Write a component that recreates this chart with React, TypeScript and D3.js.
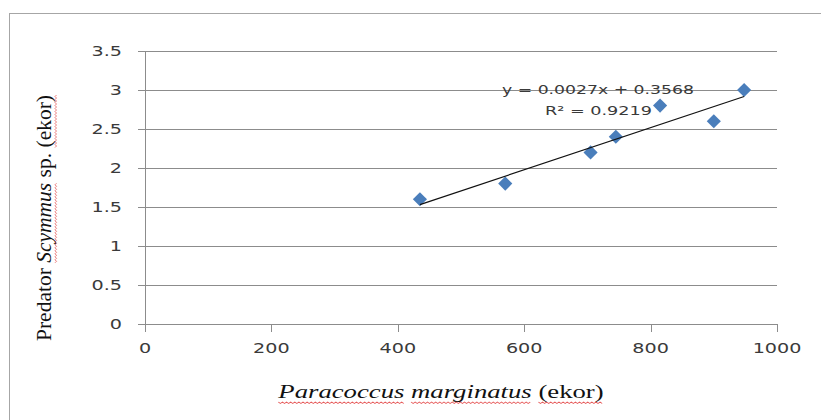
import React, { useEffect, useRef } from "react";
import * as d3 from "d3";

const preyCounts = [435, 570, 705, 745, 815, 900, 948];
const predatorCounts = [1.6, 1.8, 2.2, 2.4, 2.8, 2.6, 3.0];
const xTicks = [0, 200, 400, 600, 800, 1000];
const yTicks = [0, 0.5, 1, 1.5, 2, 2.5, 3, 3.5];
const trendSlope = 0.0027;
const trendIntercept = 0.3568;
const equationLines = ["y = 0.0027x + 0.3568", "R² = 0.9219"];
const xTitleParts = [
  { text: "Paracoccus", italic: true, wavy: true },
  { text: " ", italic: false, wavy: false },
  { text: "marginatus", italic: true, wavy: true },
  { text: " ", italic: false, wavy: false },
  { text: "(ekor)", italic: false, wavy: true },
];
const yTitleParts = [
  { text: "Predator ", italic: false, wavy: false },
  { text: "Scymmus", italic: true, wavy: true },
  { text: " sp. ", italic: false, wavy: false },
  { text: "(ekor)", italic: false, wavy: true },
];

const W = 821;
const H = 420;

export default function App() {
  const ref = useRef<SVGSVGElement | null>(null);

  useEffect(() => {
    const svg = d3.select(ref.current);
    svg.selectAll("*").remove();

    const x = d3.scaleLinear().domain([0, 1000]).range([145, 777]);
    const y = d3.scaleLinear().domain([0, 3.5]).range([324, 51]);

    // frame
    svg.append("rect").attr("x", 9.5).attr("y", 13.5).attr("width", 830).attr("height", 430)
      .attr("fill", "white").attr("stroke", "#a6a6a6").attr("stroke-width", 1);

    const tickFont = "'DejaVu Sans', Verdana, sans-serif";
    const tickColor = "#3a3a3a";
    const stretch = 1.42;
    // gridlines
    svg.append("g").selectAll("line").data(yTicks.filter((t) => t > 0)).join("line")
      .attr("x1", x(0)).attr("x2", x(1000))
      .attr("y1", (d) => Math.round(y(d)) + 0.5).attr("y2", (d) => Math.round(y(d)) + 0.5)
      .attr("stroke", "#8c8c8c").attr("stroke-width", 1);

    // axes
    const axisColor = "#8c8c8c";
    svg.append("line").attr("x1", x(0) + 0.5).attr("x2", x(0) + 0.5).attr("y1", y(3.5)).attr("y2", y(0))
      .attr("stroke", axisColor);
    svg.append("line").attr("x1", x(0)).attr("x2", x(1000)).attr("y1", y(0) + 0.5).attr("y2", y(0) + 0.5)
      .attr("stroke", axisColor);
    // y ticks
    svg.append("g").selectAll("line").data(yTicks).join("line")
      .attr("x1", x(0) - 7).attr("x2", x(0))
      .attr("y1", (d) => Math.round(y(d)) + 0.5).attr("y2", (d) => Math.round(y(d)) + 0.5)
      .attr("stroke", axisColor);
    svg.append("g").selectAll("text").data(yTicks).join("text")
      .attr("transform", (d) => `translate(${x(0) - 23},${y(d)}) scale(${stretch},1)`)
      .attr("dy", "0.36em")
      .attr("text-anchor", "end").attr("font-family", tickFont).attr("font-size", 13.5)
      .attr("fill", tickColor).text((d) => String(d));
    // x ticks
    svg.append("g").selectAll("line").data(xTicks).join("line")
      .attr("x1", (d) => Math.round(x(d)) + 0.5).attr("x2", (d) => Math.round(x(d)) + 0.5)
      .attr("y1", y(0)).attr("y2", y(0) + 8)
      .attr("stroke", axisColor);
    svg.append("g").selectAll("text").data(xTicks).join("text")
      .attr("transform", (d) => `translate(${x(d)},${y(0) + 29}) scale(${stretch},1)`)
      .attr("text-anchor", "middle").attr("font-family", tickFont).attr("font-size", 13.5)
      .attr("fill", tickColor).text((d) => String(d));

    // points
    const pts = preyCounts.map((v, i) => [v, predatorCounts[i]] as [number, number]);
    const sym = d3.symbol().type(d3.symbolSquare).size(100);
    svg.append("g").selectAll("path").data(pts).join("path")
      .attr("d", sym as any)
      .attr("transform", (d) => `translate(${x(d[0])},${y(d[1])}) rotate(45)`)
      .attr("fill", "#4a7ebb");

    // trendline
    const xmin = d3.min(preyCounts) as number;
    const xmax = d3.max(preyCounts) as number;
    const line = d3.line<number>().x((d) => x(d)).y((d) => y(trendSlope * d + trendIntercept));
    svg.append("path").attr("d", line([xmin, xmax]) as string)
      .attr("stroke", "#111").attr("stroke-width", 1.2).attr("fill", "none");

    // equation
    svg.append("text").attr("x", 502).attr("y", 93.5)
      .attr("textLength", 192).attr("lengthAdjust", "spacingAndGlyphs")
      .attr("font-family", tickFont).attr("font-size", 12.5).attr("fill", tickColor).text(equationLines[0]);
    svg.append("text").attr("x", 545).attr("y", 114.5)
      .attr("textLength", 107).attr("lengthAdjust", "spacingAndGlyphs")
      .attr("font-family", tickFont).attr("font-size", 12.5).attr("fill", tickColor).text(equationLines[1]);

    const serif = "'Liberation Serif', 'Times New Roman', serif";
    const wavy = (g: any, x0: number, x1: number, yy: number) => {
      const pts2: [number, number][] = [];
      let k = 0;
      for (let xx = x0; xx <= x1; xx += 1.5, k++) pts2.push([xx, yy + (k % 2 === 0 ? 0 : 1.5)]);
      g.append("path").attr("d", d3.line()(pts2) as string).attr("stroke", "#e03030")
        .attr("stroke-width", 0.8).attr("fill", "none").attr("opacity", 0.8);
    };

    const drawTitle = (g: any, parts: any[], size: number) => {
      const nodes: any[] = [];
      parts.forEach((p) => {
        const t = g.append("text").attr("font-family", serif).attr("font-size", size)
          .attr("font-style", p.italic ? "italic" : "normal").attr("fill", "#111")
          .attr("xml:space", "preserve").style("white-space", "pre").text(p.text);
        nodes.push(t);
      });
      const widths = nodes.map((n) => (n.node() as SVGTextElement).getComputedTextLength());
      const total = d3.sum(widths);
      let cx = -total / 2;
      nodes.forEach((n, i) => {
        n.attr("x", cx).attr("y", 0);
        if (parts[i].wavy) wavy(g, cx, cx + widths[i], 4);
        cx += widths[i];
      });
    };

    const xt = svg.append("g").attr("transform", "translate(441,398) scale(1.37,1)");
    drawTitle(xt, xTitleParts, 19.5);
    const yt = svg.append("g").attr("transform", "translate(51,218) rotate(-90)");
    drawTitle(yt, yTitleParts, 21.5);
  }, []);

  return (
    <svg ref={ref} width={W} height={H} style={{ display: "block", position: "absolute", left: 0, top: 0 }} />
  );
}
